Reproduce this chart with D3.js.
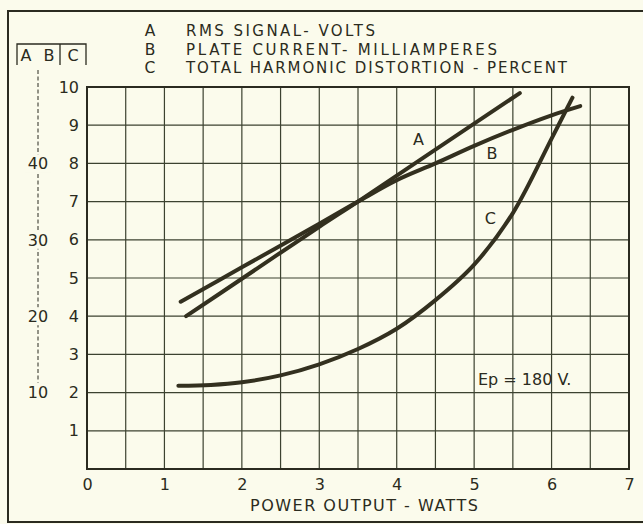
<!DOCTYPE html>
<html>
<head>
<meta charset="utf-8">
<script src="https://cdn.jsdelivr.net/npm/d3@7"></script>
<style>
  html, body { margin: 0; padding: 0; background: #fbfbec; }
  svg { display: block; }
  text { font-family: "DejaVu Sans", "Liberation Sans", sans-serif; fill: #2b2b20; }
</style>
</head>
<body>
<svg id="chart" width="643" height="524"></svg>
<script>
// Power output (watts) along the horizontal axis
const xTicks = [0, 1, 2, 3, 4, 5, 6, 7];
// Inner scale (curve C, percent) and outer scale (curves A and B)
const cTicks = [1, 2, 3, 4, 5, 6, 7, 8, 9, 10];
const abTicks = [10, 20, 30, 40];

// Curve A: RMS signal, volts (outer scale)
const aWatts = [1.28, 2.0, 3.0, 3.5, 4.0, 5.0, 5.59];
const aVolts = [20.0, 24.9, 31.7, 35.0, 38.4, 45.2, 49.2];

// Curve B: plate current, milliamperes (outer scale)
const bWatts = [1.21, 2.0, 3.0, 3.5, 4.0, 4.5, 5.0, 5.5, 6.0, 6.37];
const bMilliamps = [21.9, 26.4, 32.1, 35.0, 37.8, 40.0, 42.3, 44.4, 46.3, 47.5];

// Curve C: total harmonic distortion, percent (inner scale)
const cWatts = [1.18, 1.6, 2.0, 2.5, 3.0, 3.5, 4.0, 4.5, 5.0, 5.5, 6.0, 6.27];
const cPercent = [2.18, 2.2, 2.27, 2.45, 2.74, 3.14, 3.67, 4.42, 5.35, 6.7, 8.65, 9.72];

const legendKeys = ["A", "B", "C"];
const legendTexts = [
  "RMS SIGNAL- VOLTS",
  "PLATE CURRENT- MILLIAMPERES",
  "TOTAL HARMONIC DISTORTION - PERCENT"
];

const ink = "#2b2b20";
const curveInk = "#33301f";
const gridInk = "#3c4230";

const svg = d3.select("#chart");

const x = d3.scaleLinear().domain([0, 7]).range([87, 629]);
const yC = d3.scaleLinear().domain([0, 10]).range([469, 87]);
const yAB = d3.scaleLinear().domain([0, 50]).range([469, 87]);

// Outer frame of the sheet
svg.append("path")
  .attr("d", "M643,11 H8 V522 H643")
  .attr("fill", "none").attr("stroke", ink).attr("stroke-width", 2);

// Grid: half-watt columns, unit rows
const g = svg.append("g");
g.selectAll("line.v").data(d3.range(1, 14).map(i => i * 0.5)).join("line")
  .attr("x1", d => x(d)).attr("x2", d => x(d))
  .attr("y1", yC(10)).attr("y2", yC(0))
  .attr("stroke", gridInk).attr("stroke-width", 1.2);
g.selectAll("line.h").data(d3.range(1, 10)).join("line")
  .attr("x1", x(0)).attr("x2", x(7))
  .attr("y1", d => yC(d)).attr("y2", d => yC(d))
  .attr("stroke", gridInk).attr("stroke-width", 1.2);
g.append("rect")
  .attr("x", x(0)).attr("y", yC(10))
  .attr("width", x(7) - x(0)).attr("height", yC(0) - yC(10))
  .attr("fill", "none").attr("stroke", ink).attr("stroke-width", 2);

// Axis labels
const xAxis = svg.append("g").attr("transform", `translate(0,${yC(0)})`)
  .call(d3.axisBottom(x).tickValues(xTicks).tickSize(0).tickPadding(10).tickFormat(d3.format("d")));
xAxis.select(".domain").remove();
xAxis.selectAll("text").attr("font-size", 16).attr("fill", ink)
  .style("font-family", "'DejaVu Sans', sans-serif");

const yAxis = svg.append("g").attr("transform", `translate(${x(0)},0)`)
  .call(d3.axisLeft(yC).tickValues(cTicks).tickSize(0).tickPadding(8).tickFormat(d3.format("d")));
yAxis.select(".domain").remove();
yAxis.selectAll("text").attr("font-size", 16).attr("fill", ink)
  .style("font-family", "'DejaVu Sans', sans-serif");

// Outer dashed scale for A and B
const abX = 38;
svg.append("line")
  .attr("x1", abX).attr("x2", abX).attr("y1", 70).attr("y2", yAB(10) - 10)
  .attr("stroke", ink).attr("stroke-width", 1).attr("stroke-dasharray", "4,2.5");
const abLabels = svg.append("g").selectAll("g").data(abTicks).join("g")
  .attr("transform", d => `translate(${abX},${yAB(d)})`);
abLabels.append("rect").attr("x", -13).attr("y", -9).attr("width", 26).attr("height", 18)
  .attr("fill", "#fbfbec");
abLabels.append("text").attr("text-anchor", "middle").attr("dy", "0.36em")
  .attr("font-size", 16).text(d => d);

// Column header box
svg.append("path").attr("d", "M17,65 V44 H86 V65 M60,44 V65")
  .attr("fill", "none").attr("stroke", ink).attr("stroke-width", 1.3);
svg.append("g").selectAll("text").data([["A", 26], ["B", 49], ["C", 73]]).join("text")
  .attr("x", d => d[1]).attr("y", 61).attr("text-anchor", "middle")
  .attr("font-size", 16).text(d => d[0]);

// Legend
const legend = svg.append("g");
legend.selectAll("text.key").data(legendKeys).join("text")
  .attr("class", "key").attr("x", 150).attr("y", (d, i) => 36 + i * 18.5)
  .attr("text-anchor", "middle").attr("font-size", 15.5).text(d => d);
const legendWidths = [189, 311, 381];
legend.selectAll("text.desc").data(legendTexts).join("text")
  .attr("class", "desc").attr("x", 186).attr("y", (d, i) => 36 + i * 18.5)
  .attr("font-size", 15)
  .attr("textLength", (d, i) => legendWidths[i]).attr("lengthAdjust", "spacing")
  .text(d => d);

// Curves
const line = d3.line().curve(d3.curveCatmullRom.alpha(0.5));
const curves = [
  { pts: aWatts.map((w, i) => [x(w), yAB(aVolts[i])]) },
  { pts: bWatts.map((w, i) => [x(w), yAB(bMilliamps[i])]) },
  { pts: cWatts.map((w, i) => [x(w), yC(cPercent[i])]) }
];
svg.append("g").selectAll("path").data(curves).join("path")
  .attr("d", d => line(d.pts))
  .attr("fill", "none").attr("stroke", curveInk)
  .attr("stroke-width", 4).attr("stroke-linecap", "round");

// Curve letters
const curveTags = [["A", 4.28, 8.64], ["B", 5.23, 8.27], ["C", 5.21, 6.57]];
svg.append("g").selectAll("text").data(curveTags).join("text")
  .attr("x", d => x(d[1])).attr("y", d => yC(d[2]))
  .attr("text-anchor", "middle").attr("dy", "0.36em")
  .attr("font-size", 16).text(d => d[0]);

// Operating condition
svg.append("text").attr("x", x(5.05)).attr("y", yC(2.2))
  .attr("font-size", 16).text("Ep = 180 V.");

// Horizontal axis title
svg.append("text").attr("x", 364).attr("y", 511)
  .attr("text-anchor", "middle").attr("font-size", 16)
  .attr("textLength", 228).attr("lengthAdjust", "spacing")
  .text("POWER OUTPUT - WATTS");
</script>
</body>
</html>
